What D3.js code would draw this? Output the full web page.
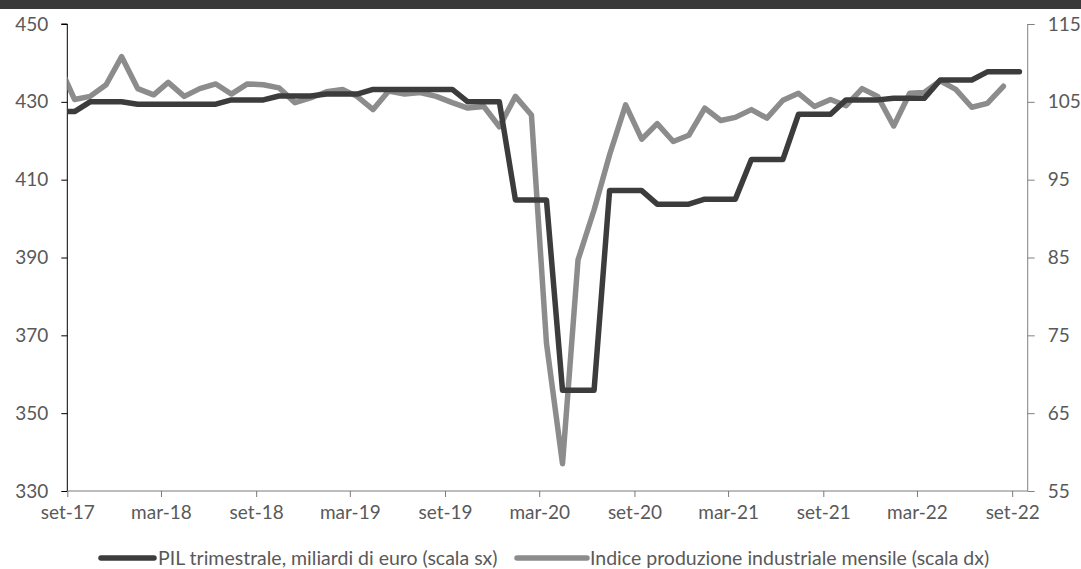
<!DOCTYPE html>
<html>
<head>
<meta charset="utf-8">
<script src="https://cdn.jsdelivr.net/npm/d3@7"></script>
<style>
  html, body { margin: 0; padding: 0; background: #ffffff; }
  svg { display: block; }
  text { font-family: Lato, "Open Sans", sans-serif; }
</style>
</head>
<body>
<div id="chart"></div>
<script>
// ---- data ----
const months = [
  "2017-08","2017-09","2017-10","2017-11","2017-12",
  "2018-01","2018-02","2018-03","2018-04","2018-05","2018-06","2018-07","2018-08","2018-09","2018-10","2018-11","2018-12",
  "2019-01","2019-02","2019-03","2019-04","2019-05","2019-06","2019-07","2019-08","2019-09","2019-10","2019-11","2019-12",
  "2020-01","2020-02","2020-03","2020-04","2020-05","2020-06","2020-07","2020-08","2020-09","2020-10","2020-11","2020-12",
  "2021-01","2021-02","2021-03","2021-04","2021-05","2021-06","2021-07","2021-08","2021-09","2021-10","2021-11","2021-12",
  "2022-01","2022-02","2022-03","2022-04","2022-05","2022-06","2022-07","2022-08","2022-09"
];
// PIL trimestrale (quarterly value shown for each month of the quarter)
const pil = [
  427.5,427.5,430.0,430.0,430.0,
  429.4,429.4,429.4,429.4,429.4,429.4,430.5,430.5,430.5,431.5,431.5,431.5,
  432.0,432.0,432.0,433.2,433.2,433.2,433.2,433.2,433.2,430.0,430.0,430.0,
  404.8,404.8,404.8,355.9,355.9,355.9,407.2,407.2,407.2,403.7,403.7,403.7,
  405.0,405.0,405.0,415.2,415.2,415.2,426.8,426.8,426.8,430.5,430.5,430.5,
  430.9,430.9,430.9,435.6,435.6,435.6,437.7,437.7,437.7
];
// Indice produzione industriale mensile
const ipi = [
  109.9,105.3,105.7,107.2,110.8,
  106.7,105.9,107.5,105.7,106.7,107.3,106.0,107.3,107.2,106.8,104.9,105.5,
  106.3,106.6,105.7,104.0,106.4,106.0,106.2,105.7,104.9,104.2,104.4,101.8,
  105.7,103.3,74.0,58.5,84.7,91.1,98.2,104.6,100.2,102.2,99.9,100.7,
  104.2,102.6,103.0,104.0,102.9,105.2,106.1,104.4,105.3,104.5,106.7,105.7,
  101.9,106.1,106.2,107.7,106.6,104.3,104.8,107.0,null
];
const xTickDates = ["2017-09","2018-03","2018-09","2019-03","2019-09","2020-03","2020-09","2021-03","2021-09","2022-03","2022-09"];
const xTickLabels = ["set-17","mar-18","set-18","mar-19","set-19","mar-20","set-20","mar-21","set-21","mar-22","set-22"];
const leftTicks = [330,350,370,390,410,430,450];
const rightTicks = [55,65,75,85,95,105,115];
const seriesNames = ["PIL trimestrale, miliardi di euro (scala sx)", "Indice produzione industriale mensile (scala dx)"];

// ---- layout ----
const W = 1081, H = 569;
const x0 = 67.3, x1 = 1027.7, yTop = 24, yBot = 491;
const darkCol = "#3c3c3c", grayCol = "#8c8c8c", textCol = "#595959";

const parseMonth = d3.utcParse("%Y-%m");
const midMonth = s => { const d = parseMonth(s); return new Date(Date.UTC(d.getUTCFullYear(), d.getUTCMonth(), 15)); };

const x = d3.scaleUtc()
  .domain([parseMonth("2017-09"), parseMonth("2022-10")])
  .range([x0, x1]);
const yL = d3.scaleLinear().domain([330, 450]).range([yBot, yTop]);
const yR = d3.scaleLinear().domain([55, 115]).range([yBot, yTop]);

const svg = d3.select("#chart").append("svg").attr("width", W).attr("height", H);

// top dark band
svg.append("rect").attr("x", 0).attr("y", 0).attr("width", W).attr("height", 9).attr("fill", "#3a3a3a");

svg.append("defs").append("clipPath").attr("id", "plotclip")
  .append("rect").attr("x", x0).attr("y", 0).attr("width", x1 - x0).attr("height", H);

// axes
const axL = svg.append("g").attr("transform", `translate(${x0},0)`)
  .call(d3.axisLeft(yL).tickValues(leftTicks).tickSize(6).tickPadding(13).tickFormat(d3.format("d")));
axL.select(".domain").attr("stroke", "#000").attr("d", `M-6,${yTop}H0V${yBot}`);
axL.selectAll(".tick line").attr("stroke", "#000");
axL.selectAll(".tick text").attr("fill", textCol).style("font-size", "19px");

const axR = svg.append("g").attr("transform", `translate(${x1},0)`)
  .call(d3.axisRight(yR).tickValues(rightTicks).tickSize(7).tickPadding(13).tickFormat(d3.format("d")));
axR.select(".domain").attr("stroke", "#808080").attr("d", `M0,${yTop}V${yBot}`);
axR.selectAll(".tick line").attr("stroke", "#808080");
axR.selectAll(".tick text").attr("fill", textCol).style("font-size", "19px");

const axB = svg.append("g").attr("transform", `translate(0,${yBot})`)
  .call(d3.axisBottom(x).tickValues(xTickDates.map(parseMonth)).tickSize(6).tickPadding(9)
    .tickFormat((d, i) => xTickLabels[i]));
axB.select(".domain").attr("stroke", "#7a7a7a").attr("d", `M${x0},0H${x1}`);
axB.selectAll(".tick line").attr("stroke", "#7a7a7a");
axB.selectAll(".tick text").attr("fill", textCol).style("font-size", "19px");
svg.selectAll(".tick text").attr("font-family", "Lato");

// lines
const plot = svg.append("g").attr("clip-path", "url(#plotclip)");
const pilLine = d3.line().x((d, i) => x(midMonth(months[i]))).y(d => yL(d));
const ipiLine = d3.line().defined(d => d != null).x((d, i) => x(midMonth(months[i]))).y(d => yR(d));

plot.append("path").datum(ipi).attr("d", ipiLine)
  .attr("fill", "none").attr("stroke", grayCol).attr("stroke-width", 5.5)
  .attr("stroke-linejoin", "round").attr("stroke-linecap", "round");
plot.append("path").datum(pil).attr("d", pilLine)
  .attr("fill", "none").attr("stroke", darkCol).attr("stroke-width", 5.5)
  .attr("stroke-linejoin", "round").attr("stroke-linecap", "round");

// legend
const leg = svg.append("g");
const legItems = [
  {name: seriesNames[0], col: darkCol, lx0: 101, lx1: 154, tx: 158},
  {name: seriesNames[1], col: grayCol, lx0: 517, lx1: 587, tx: 590}
];
legItems.forEach(it => {
  leg.append("line").attr("x1", it.lx0).attr("x2", it.lx1).attr("y1", 558).attr("y2", 558)
    .attr("stroke", it.col).attr("stroke-width", 5.5).attr("stroke-linecap", "round");
  leg.append("text").attr("x", it.tx).attr("y", 564.5).attr("fill", textCol)
    .style("font-size", "19.5px").text(it.name);
});
</script>
</body>
</html>
